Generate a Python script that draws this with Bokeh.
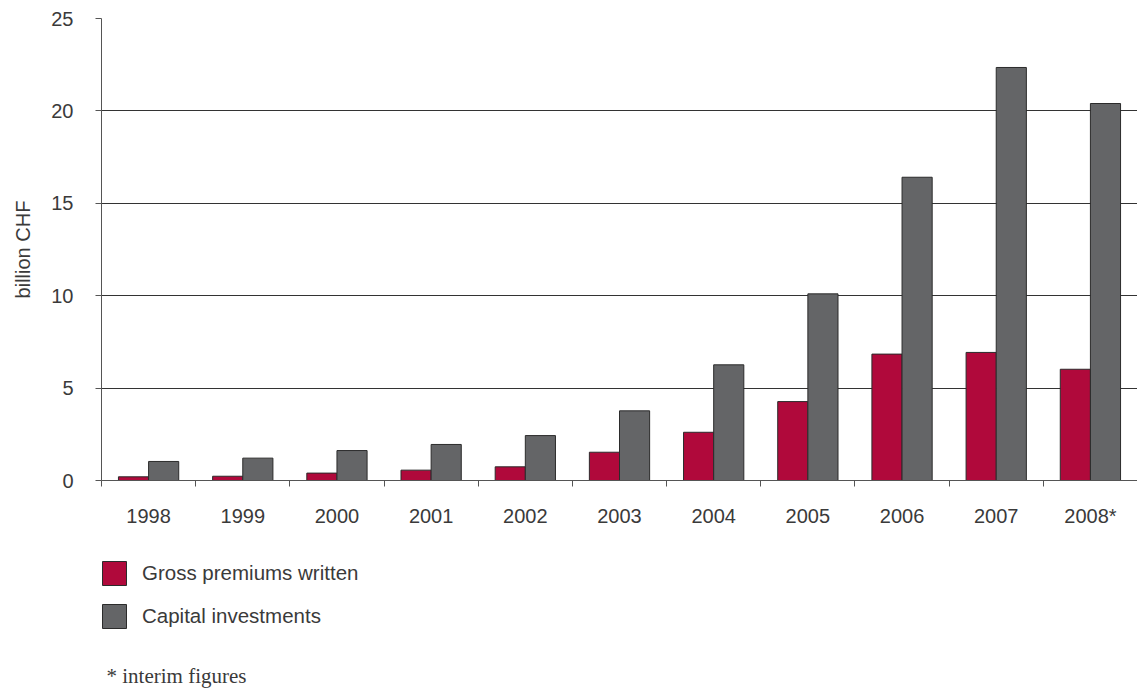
from bokeh.plotting import figure
from bokeh.layouts import column
from bokeh.models import ColumnDataSource, FixedTicker, Legend, LegendItem, Label, Range1d
from bokeh.transform import dodge
from bokeh.embed import file_html
from bokeh.resources import INLINE

years = ["1998", "1999", "2000", "2001", "2002", "2003", "2004", "2005", "2006", "2007", "2008*"]
gross_premiums = [0.20, 0.23, 0.40, 0.56, 0.74, 1.53, 2.61, 4.27, 6.84, 6.93, 6.02]
capital_investments = [1.03, 1.21, 1.62, 1.95, 2.43, 3.77, 6.26, 10.10, 16.41, 22.35, 20.40]
y_ticks = [0, 5, 10, 15, 20, 25]
series_names = ["Gross premiums written", "Capital investments"]
footnote = "* interim figures"

RED = "#B0093B"
GRAY = "#646567"
EDGE = "#2b2b2b"
TEXT = "#3a3a3a"
FONT = "Liberation Sans"

pos = [i + 0.5 for i in range(len(years))]
source = ColumnDataSource(dict(pos=pos, gross=gross_premiums, capital=capital_investments))

p = figure(width=1137, height=535,
           x_range=Range1d(0, len(years)), y_range=Range1d(0, 25),
           output_backend="svg", toolbar_location=None,
           min_border_left=101, min_border_right=0, min_border_top=18, min_border_bottom=55)
p.outline_line_color = None
p.background_fill_color = "white"
p.border_fill_color = "white"

bar_style = dict(width=0.32, source=source, line_color=EDGE, line_width=1)
r1 = p.vbar(x=dodge("pos", -0.16, range=p.x_range), top="gross", fill_color=RED, **bar_style)
r2 = p.vbar(x=dodge("pos", 0.16, range=p.x_range), top="capital", fill_color=GRAY, **bar_style)

# x axis: labels at category centres, tick marks at category boundaries
xa = p.xaxis[0]
xa.ticker = FixedTicker(ticks=pos, minor_ticks=list(range(len(years) + 1)))
xa.major_label_overrides = {pp: y for pp, y in zip(pos, years)}
xa.major_tick_line_color = None
xa.major_tick_out = 6
xa.major_tick_in = 0
xa.minor_tick_out = 6
xa.minor_tick_in = 0
xa.minor_tick_line_color = "#555555"
xa.axis_line_color = "#555555"
xa.major_label_standoff = 18
xa.major_label_text_font = FONT
xa.major_label_text_font_size = "20px"
xa.major_label_text_color = TEXT

# y axis
ya = p.yaxis[0]
ya.ticker = FixedTicker(ticks=y_ticks)
ya.minor_tick_line_color = None
ya.major_tick_out = 6
ya.major_tick_in = 0
ya.major_tick_line_color = "#555555"
ya.axis_line_color = "#555555"
ya.major_label_standoff = 22
ya.major_label_text_font = FONT
ya.major_label_text_font_size = "20px"
ya.major_label_text_color = TEXT
ya.axis_label = "billion CHF"
ya.axis_label_standoff = 14
ya.axis_label_text_font = FONT
ya.axis_label_text_font_size = "20px"
ya.axis_label_text_font_style = "normal"
ya.axis_label_text_color = TEXT

p.xgrid.grid_line_color = None
p.ygrid.grid_line_color = "#333333"
p.ygrid.ticker = FixedTicker(ticks=y_ticks)

# legend + footnote strip
q = figure(width=1137, height=154, x_range=Range1d(0, len(years)), y_range=Range1d(-2, -1),
           output_backend="svg", toolbar_location=None,
           min_border_left=0, min_border_right=0, min_border_top=0, min_border_bottom=0)
q.axis.visible = False
q.grid.visible = False
q.outline_line_color = None
q.background_fill_color = "white"
q.border_fill_color = "white"

k1 = q.vbar(x="pos", top="gross", fill_color=RED, visible=False, **bar_style)
k2 = q.vbar(x="pos", top="capital", fill_color=GRAY, visible=False, **bar_style)

legend = Legend(items=[LegendItem(label=series_names[0], renderers=[k1]),
                       LegendItem(label=series_names[1], renderers=[k2])],
                location=(-2, 58), margin=0, padding=0, spacing=13,
                glyph_width=30, glyph_height=30, label_standoff=13, label_height=23,
                label_text_font=FONT, label_text_font_size="20.5px", label_text_color=TEXT,
                border_line_color=None, background_fill_alpha=0)
q.add_layout(legend, "center")

note = Label(x=5, y=14, x_units="screen", y_units="screen", text=footnote,
             text_baseline="alphabetic", text_align="left",
             text_font="Liberation Serif", text_font_size="21px", text_color=TEXT)
q.add_layout(note)

layout = column(p, q, spacing=0)
open("out.html", "w").write(file_html(layout, INLINE))
